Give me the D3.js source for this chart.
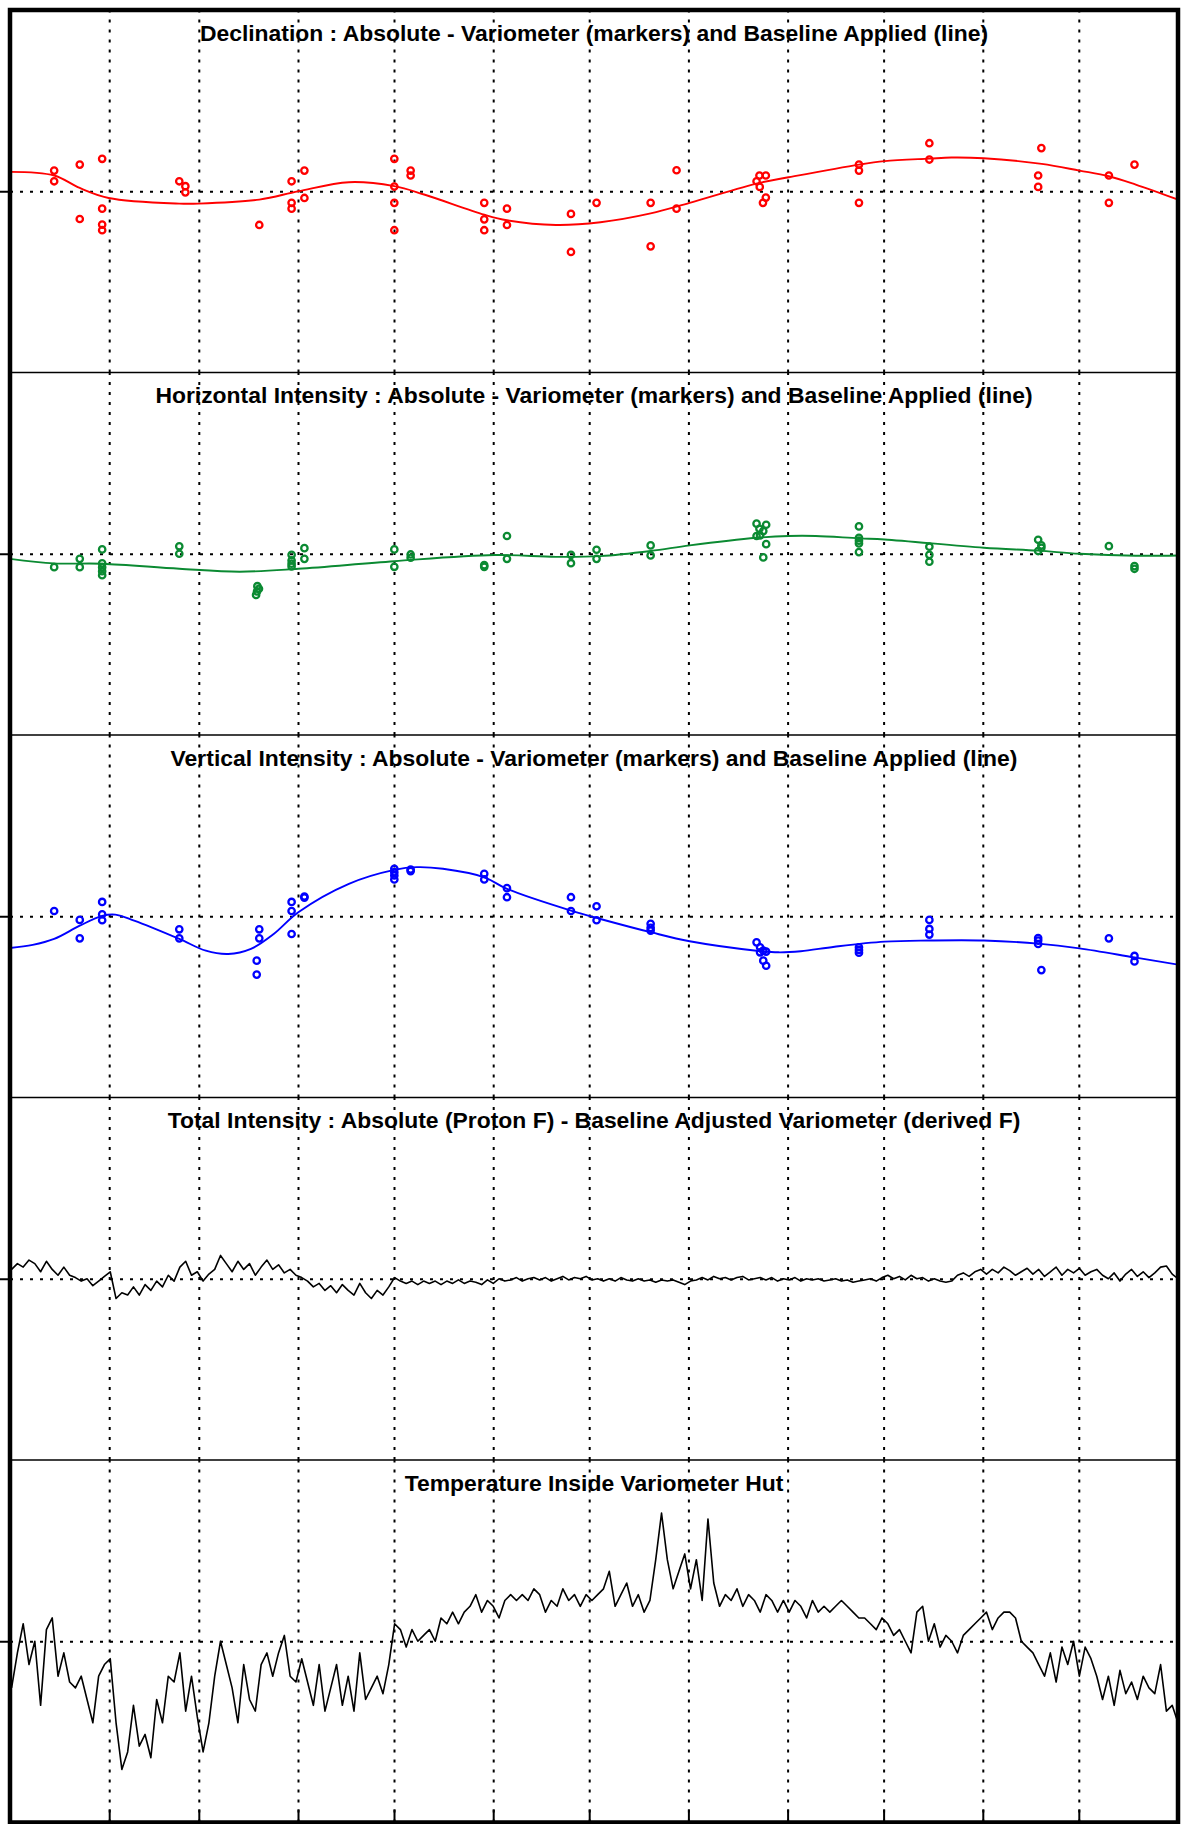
<!DOCTYPE html>
<html>
<head>
<meta charset="utf-8">
<script src="https://cdn.jsdelivr.net/npm/d3@7"></script>
<style>
  body { margin: 0; background: #fff; }
  svg { display: block; }
</style>
</head>
<body>
<svg id="chart"></svg>
<script>
// ---- data (day of year, value) ----
const declMarkDays = [13.8,13.8,21.8,21.8,28.8,28.8,28.8,28.8,52.9,54.8,54.8,77.9,88,88,88,92,92,120.1,120.1,120.1,120.1,125.2,125.2,148.2,148.2,148.2,155.3,155.3,175.3,175.3,183.3,200.2,200.2,208.3,208.3,233.3,234.2,236.2,236.2,234.3,235.3,265.3,265.3,265.3,287.3,287.3,321.3,321.3,322.3,343.4,343.4,351.4];
const declMarkValues = [1.14,0.55,1.47,-1.53,1.79,-0.96,-1.84,-2.15,0.55,0.28,-0.06,-1.86,0.55,-0.64,-0.96,1.14,-0.37,1.79,0.26,-0.64,-2.15,1.14,0.87,-0.64,-1.55,-2.15,-0.96,-1.86,-1.25,-3.35,-0.64,-0.64,-3.04,1.16,-0.96,0.55,0.87,0.87,-0.35,0.24,-0.64,1.47,1.14,-0.64,2.65,1.75,0.87,0.24,2.38,0.87,-0.64,1.47];
const declLineDays = [0,13.8,21.8,30.8,52.9,58.9,77.9,90.1,105.9,120.1,129.4,148.2,155.3,170.6,184.5,200.2,212.4,234.2,243.3,265.3,273.3,287.3,294.2,304.3,322.4,334.2,343.4,351.8,365];
const declLineValues = [1.07,0.87,0.18,-0.37,-0.68,-0.68,-0.46,0,0.5,0.28,-0.18,-1.29,-1.6,-1.86,-1.71,-1.22,-0.64,0.46,0.77,1.47,1.66,1.8,1.86,1.82,1.51,1.14,0.83,0.37,-0.46];

const horMarkDays = [13.8,21.8,21.8,28.8,28.8,28.8,28.8,28.8,52.9,52.9,77.3,77.8,77.2,76.9,88,88,88,88,92,92,120.1,120.1,125.2,125.2,148.2,148.2,155.3,155.3,175.3,175.3,183.3,183.3,200.2,200.2,233.3,233.3,236.3,236.3,234.2,235.4,235.4,234.4,265.3,265.3,265.3,265.3,265.3,287.3,287.3,287.3,321.3,321.3,322.3,322.3,343.4,351.4,351.4];
const horMarkValues = [-0.74,-0.28,-0.74,0.24,-0.53,-0.74,-0.96,-1.18,0.41,0,-1.79,-1.93,-2.08,-2.27,-0.06,-0.37,-0.55,-0.7,0.31,-0.28,0.24,-0.72,-0.04,-0.22,-0.63,-0.72,0.98,-0.28,-0.06,-0.52,0.22,-0.28,0.46,-0.09,1.66,0.98,1.6,0.53,1.38,1.25,-0.2,1.01,1.51,0.88,0.72,0.57,0.09,0.39,-0.06,-0.44,0.77,0.15,0.46,0.33,0.42,-0.68,-0.83];
const horLineDays = [0,13.8,28.8,52.9,71.8,90.1,120.1,151.3,170.6,184.5,200.2,212.4,233.3,243.3,251.8,265.3,273.3,304.3,321.3,334.2,351.8,365.7];
const horLineValues = [-0.28,-0.53,-0.55,-0.83,-0.99,-0.83,-0.41,-0.07,-0.17,-0.13,0.15,0.46,0.88,0.98,0.98,0.85,0.79,0.33,0.17,0,-0.11,-0.09];

const verMarkDays = [13.8,21.8,21.8,28.8,28.8,28.8,52.9,52.9,77.9,77.9,77.1,77.1,88,88,88,92,92,120.1,120.1,120.1,120.1,125.2,125.2,148.2,148.2,155.3,155.3,175.3,175.3,183.3,183.3,200.2,200.2,200.2,233.3,234.4,234.4,235.4,235.4,236.3,236.3,265.3,265.3,265.3,287.3,287.3,287.3,321.3,321.3,321.3,322.3,343.4,351.4,351.4];
const verMarkValues = [0.29,-0.2,-1.22,0.79,0.11,-0.22,-0.72,-1.22,-0.72,-1.22,-2.45,-3.22,0.79,0.29,-0.98,1.09,1.03,2.62,2.43,2.25,2.03,2.58,2.49,2.34,2.03,1.55,1.05,1.05,0.29,0.55,-0.22,-0.42,-0.64,-0.79,-1.44,-1.71,-1.99,-1.9,-2.45,-1.95,-2.73,-1.71,-1.86,-2.01,-0.2,-0.7,-1.01,-1.2,-1.34,-1.53,-2.97,-1.22,-2.19,-2.49];
const verLineDays = [0,7.1,13.8,21.8,28.8,32.9,38.8,52.9,61.2,68.2,75.3,82.4,90.1,105.9,120.1,127.1,135.3,148.2,155.3,175.3,184.5,200.2,212.4,233.3,240.1,247.1,257.7,273.3,287.3,304.3,321.3,334.2,351.4,365.7];
const verLineValues = [-1.75,-1.58,-1.25,-0.52,0.02,0.09,-0.24,-1.25,-1.9,-2.08,-1.8,-0.98,0.22,1.79,2.56,2.71,2.62,2.15,1.51,0.31,-0.15,-0.88,-1.38,-1.9,-1.99,-1.93,-1.68,-1.4,-1.34,-1.34,-1.51,-1.77,-2.27,-2.69];

// evenly spaced samples across the year
const fDiffValues = [0.8,1.3,1.0,1.6,1.3,0.6,1.5,0.8,0.3,1.0,0.3,0.1,-0.2,0,-0.6,-0.2,0.2,0.6,-1.7,-1.2,-1.4,-0.7,-1.4,-0.5,-1.0,-0.2,-0.7,0.3,-0.2,1.0,1.5,0.3,0.6,-0.2,0.4,0.8,2.0,1.3,0.6,1.5,0.8,1.3,0.3,1.0,1.6,0.8,1.2,0.5,0.8,0.3,0.1,-0.2,-0.7,-0.4,-1.0,-0.6,-1.2,-0.5,-1.0,-1.4,-0.4,-1.2,-1.7,-1.0,-1.4,-0.7,0.1,-0.2,-0.4,-0.2,-0.5,-0.2,-0.4,-0.2,-0.5,-0.2,-0.4,-0.1,-0.4,-0.2,-0.3,-0.5,-0.1,-0.4,0,-0.2,-0.1,0.1,-0.2,0,0.1,-0.1,0.1,-0.2,0,0.2,-0.1,0.1,0,0.2,-0.1,0,-0.2,0,-0.2,0.1,-0.1,-0.2,0,-0.2,-0.1,-0.3,-0.1,-0.2,-0.1,-0.3,-0.5,-0.2,-0.1,0.1,-0.1,0.2,0,0.1,-0.1,0.1,0.2,-0.1,0,0.1,-0.1,0.1,-0.2,0,-0.1,0.1,-0.2,0,-0.1,0,-0.2,-0.1,0,-0.2,-0.1,-0.3,-0.2,-0.1,0,-0.2,0.1,0.3,0,0.2,-0.1,0.3,0,0.1,-0.2,0,-0.2,-0.3,-0.2,0.3,0.5,0.2,0.6,0.8,0.4,0.8,0.5,1.0,0.7,0.3,0.6,0.9,0.4,0.8,0.2,0.6,1.0,0.3,0.8,0.5,0.9,0.3,0.6,0.8,0.3,0,0.5,-0.2,0.4,0.8,0.2,0.6,0.1,0.5,1.0,1.1,0.4,0];
const tempValues = [-4.0,-1.0,1.5,-2.0,0,-5.5,1.0,2.0,-3.0,-1.0,-3.5,-4.0,-3.0,-5.0,-7.0,-3.0,-2.0,-1.5,-7.0,-11.0,-9.5,-5.5,-9.0,-8.0,-10.0,-5.0,-7.0,-3.0,-3.5,-1.0,-6.0,-3.0,-6.5,-9.5,-7.0,-3.0,0,-2.0,-4.0,-7.0,-2.0,-5.0,-6.0,-2.0,-1.0,-3.0,-1.0,0.5,-3.0,-3.5,-1.5,-3.5,-5.5,-2.0,-6.0,-4.0,-2.0,-5.5,-3.0,-6.0,-1.0,-5.0,-4.0,-3.0,-4.5,-2.0,1.5,1.0,-0.5,1.0,0,0.5,1.0,0,2.0,1.5,2.5,1.5,2.5,3.0,4.0,2.5,3.5,3.0,2.0,3.5,4.0,3.5,4.0,3.5,4.5,4.0,2.5,3.5,3.0,4.5,3.5,4.0,3.0,4.0,3.5,4.0,4.5,6.0,3.0,4.0,5.0,3.0,4.0,2.5,3.5,7.0,11.0,7.0,4.5,6.0,7.5,4.5,7.0,3.5,10.5,5.0,3.0,4.0,3.5,4.5,3.0,4.0,3.5,2.5,4.0,3.5,2.5,3.5,2.5,3.5,3.0,2.0,3.5,2.5,3.0,2.5,3.0,3.5,3.0,2.5,2.0,2.0,1.5,1.0,2.0,1.5,0.5,1.0,0,-1.0,2.5,3.0,0,1.5,-0.5,0.5,0,-1.0,0.5,1.0,1.5,2.0,2.5,1.0,2.0,2.5,2.5,2.0,0,-0.5,-1.0,-2.0,-3.0,-1.0,-3.5,-0.5,-2.0,0,-3.0,-0.5,-1.5,-3.0,-5.0,-3.0,-5.5,-2.5,-4.5,-3.5,-5.0,-3.0,-4.0,-4.5,-2.0,-6.0,-5.5,-7.0];

const titles = [
  "Declination : Absolute - Variometer (markers) and Baseline Applied (line)",
  "Horizontal Intensity : Absolute - Variometer (markers) and Baseline Applied (line)",
  "Vertical Intensity : Absolute - Variometer (markers) and Baseline Applied (line)",
  "Total Intensity : Absolute (Proton F) - Baseline Adjusted Variometer (derived F)",
  "Temperature Inside Variometer Hut"
];

// ---- layout ----
const width = 1182, height = 1824;
const plotLeft = 10, plotRight = 1178, plotTop = 10, panelH = 362.5;

const svg = d3.select("#chart").attr("width", width).attr("height", height);

const yearStart = new Date(Date.UTC(2001, 0, 1));
const x = d3.scaleUtc()
    .domain([yearStart, new Date(Date.UTC(2002, 0, 1))])
    .range([plotLeft, plotRight]);
const dayToDate = d => new Date(yearStart.getTime() + d * 864e5);
const spread = vals => vals.map((v, i) => [0.5 + i * 364.5 / (vals.length - 1), v]);
const zip = (a, b) => a.map((d, i) => [d, b[i]]);

const panels = [
  { half: 10, color: "#ff0000", marks: zip(declMarkDays, declMarkValues), line: zip(declLineDays, declLineValues), smooth: true },
  { half: 10, color: "#0b8a32", marks: zip(horMarkDays, horMarkValues), line: zip(horLineDays, horLineValues), smooth: true },
  { half: 10, color: "#0000ff", marks: zip(verMarkDays, verMarkValues), line: zip(verLineDays, verLineValues), smooth: true },
  { half: 15.56, color: "#000", marks: [], line: spread(fDiffValues), smooth: false },
  { half: 15.56, color: "#000", marks: [], line: spread(tempValues), smooth: false }
];

panels.forEach((p, i) => {
  const y0 = plotTop + i * panelH;
  const y = d3.scaleLinear().domain([-p.half, p.half]).range([y0 + panelH, y0]);
  const g = svg.append("g");

  g.append("clipPath").attr("id", "clip" + i)
    .append("rect").attr("x", plotLeft).attr("y", y0).attr("width", plotRight - plotLeft).attr("height", panelH);

  // month grid
  const grid = g.append("g")
      .attr("transform", `translate(0,${y0 + panelH})`)
      .call(d3.axisBottom(x).ticks(d3.utcMonth.every(1)).tickSize(-panelH).tickFormat(""));
  grid.select(".domain").remove();
  grid.selectAll("line")
      .attr("stroke", "#000")
      .attr("stroke-width", 2)
      .attr("stroke-dasharray", "3,7");

  // zero line
  const zero = g.append("g")
      .attr("transform", `translate(${plotLeft},0)`)
      .call(d3.axisLeft(y).tickValues([0]).tickSize(-(plotRight - plotLeft)).tickFormat(""));
  zero.select(".domain").remove();
  zero.selectAll("line")
      .attr("stroke", "#000")
      .attr("stroke-width", 2)
      .attr("stroke-dasharray", "3,7");

  // outer tick
  const tk = g.append("g")
      .attr("transform", `translate(${plotLeft},0)`)
      .call(d3.axisLeft(y).tickValues([0]).tickSize(10).tickFormat(""));
  tk.select(".domain").remove();
  tk.selectAll("line").attr("stroke", "#000").attr("stroke-width", 2);

  // panel divider
  if (i > 0) {
    g.append("line")
      .attr("x1", plotLeft).attr("x2", plotRight)
      .attr("y1", y0).attr("y2", y0)
      .attr("stroke", "#000").attr("stroke-width", 1.5);
  }

  const plot = g.append("g").attr("clip-path", `url(#clip${i})`);

  const line = d3.line()
      .x(d => x(dayToDate(d[0])))
      .y(d => y(d[1]))
      .curve(p.smooth ? d3.curveCatmullRom : d3.curveLinear);

  plot.append("path")
      .datum(p.line)
      .attr("fill", "none")
      .attr("stroke", p.color)
      .attr("stroke-width", p.smooth ? 1.9 : 1.6)
      .attr("stroke-linejoin", "round")
      .attr("d", line);

  plot.selectAll("circle")
    .data(p.marks)
    .join("circle")
      .attr("cx", d => x(dayToDate(d[0])))
      .attr("cy", d => y(d[1]))
      .attr("r", 3.2)
      .attr("fill", "none")
      .attr("stroke", p.color)
      .attr("stroke-width", 2.3);

  g.append("text")
      .attr("x", (plotLeft + plotRight) / 2)
      .attr("y", y0 + 30.5)
      .attr("text-anchor", "middle")
      .attr("font-family", "'Liberation Sans', Arial, sans-serif")
      .attr("font-weight", "bold")
      .attr("font-size", 22.9)
      .attr("fill", "#000")
      .text(titles[i]);
});

// bottom month ticks
const bt = svg.append("g")
    .attr("transform", `translate(0,${plotTop + 5 * panelH})`)
    .call(d3.axisTop(x).ticks(d3.utcMonth.every(1)).tickSize(13).tickFormat(""));
bt.select(".domain").remove();
bt.selectAll("line").attr("stroke", "#000").attr("stroke-width", 2);

// outer frame
svg.append("rect")
    .attr("x", plotLeft).attr("y", plotTop)
    .attr("width", plotRight - plotLeft).attr("height", 5 * panelH)
    .attr("fill", "none")
    .attr("stroke", "#000")
    .attr("stroke-width", 4.5);
</script>
</body>
</html>
